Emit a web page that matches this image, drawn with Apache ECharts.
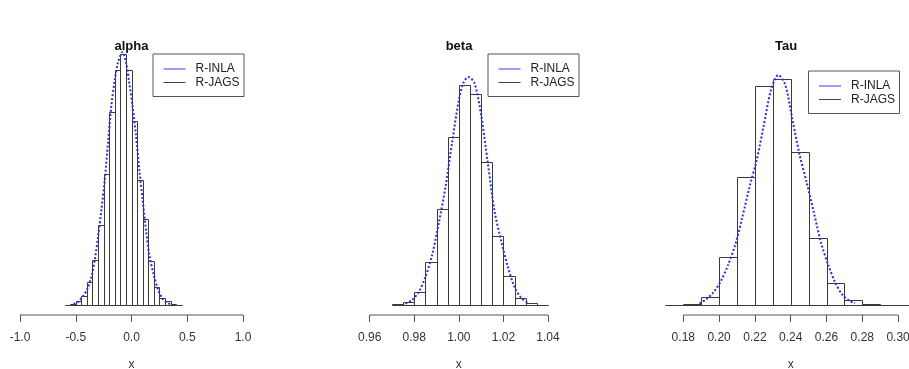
<!DOCTYPE html>
<html>
<head>
<meta charset="utf-8">
<script src="https://cdn.jsdelivr.net/npm/echarts@6/dist/echarts.min.js"></script>
<style>
  html, body { margin: 0; padding: 0; background: #fff; }
  #chart { width: 909px; height: 369px; }
</style>
</head>
<body>
<div id="chart"></div>
<script>
// bin edges and bar heights (relative density) of the JAGS histograms
const alphaBreaks = [-0.6, -0.55, -0.5, -0.45, -0.4, -0.35, -0.3, -0.25, -0.2, -0.15, -0.1,
  -0.05, 0, 0.05, 0.1, 0.15, 0.2, 0.25, 0.3, 0.35, 0.4, 0.45];
const alphaHist = [0.3, 1, 4.3, 8.7, 23, 45, 80, 131, 193, 235, 251, 235, 184, 125, 86, 44, 18, 7, 3.7, 1.3, 0.3];

const betaBreaks = [0.97, 0.975, 0.98, 0.985, 0.99, 0.995, 1.0, 1.005, 1.01, 1.015, 1.02, 1.025, 1.03, 1.035, 1.04];
const betaHist = [0.7, 3.3, 12.7, 43, 95.7, 167.7, 220, 210.7, 142.7, 68.7, 29.3, 7.3, 1.7, 0.3];

const tauBreaks = [0.17, 0.18, 0.19, 0.2, 0.21, 0.22, 0.23, 0.24, 0.25, 0.26, 0.27, 0.28, 0.29, 0.3, 0.31];
const tauHist = [0, 1.3, 8.3, 47.7, 128.3, 219, 225.7, 152.7, 67, 21.7, 5, 0.7, 0, 0];

// INLA posterior densities (same relative scale)
const alphaCurveX = [-0.52, -0.48, -0.44, -0.4, -0.36, -0.33, -0.3, -0.27, -0.24, -0.21, -0.18, -0.15, -0.12,
  -0.08, -0.05, -0.02, 0.01, 0.04, 0.07, 0.1, 0.13, 0.16, 0.2, 0.24, 0.28, 0.32, 0.36];
const alphaCurveY = [1, 3, 8, 15, 28, 45, 68, 95, 125, 163, 200, 225, 243,
  253, 243, 222, 198, 170, 135, 105, 75, 50, 30, 15, 6, 2, 0.5];

const betaCurveX = [0.976, 0.979, 0.982, 0.985, 0.988, 0.991, 0.994, 0.997, 1.0, 1.002, 1.0042,
  1.007, 1.01, 1.013, 1.016, 1.019, 1.022, 1.025, 1.028, 1.031];
const betaCurveY = [1.5, 5, 13, 28, 50, 82, 118, 163, 205, 222, 228,
  222, 190, 142, 94, 64, 38, 18, 7, 2];

const tauCurveX = [0.189, 0.193, 0.197, 0.201, 0.205, 0.209, 0.213, 0.217, 0.221, 0.225, 0.229, 0.2331,
  0.237, 0.241, 0.245, 0.249, 0.253, 0.257, 0.261, 0.265, 0.269, 0.273, 0.276];
const tauCurveY = [1.5, 6, 13, 24, 40, 60, 88, 118, 145, 180, 215, 230,
  220, 185, 150, 122, 92, 62, 40, 22, 10, 4, 2];

// tick labels
const alphaTicks = [-1, -0.5, 0, 0.5, 1];
const betaTicks = [0.96, 0.98, 1.0, 1.02, 1.04];
const tauTicks = [0.18, 0.2, 0.22, 0.24, 0.26, 0.28, 0.3];

const FONT = '"Liberation Sans", Arial, Helvetica, sans-serif';
const Y_MIN = -10, Y_MAX = 260;

const panels = [
  { title: 'alpha', breaks: alphaBreaks, hist: alphaHist, cx: alphaCurveX, cy: alphaCurveY, ticks: alphaTicks,
    digits: 1, min: -1, max: 1, left: 20, width: 223, titleX: 131.5, legendPos: [153, 54] },
  { title: 'beta', breaks: betaBreaks, hist: betaHist, cx: betaCurveX, cy: betaCurveY, ticks: betaTicks,
    digits: 2, min: 0.96, max: 1.04, left: 369.7, width: 178.3, titleX: 459, legendPos: [488, 54] },
  { title: 'Tau', breaks: tauBreaks, hist: tauHist, cx: tauCurveX, cy: tauCurveY, ticks: tauTicks,
    digits: 2, min: 0.17, max: 0.31, left: 665.4, width: 250.6, titleX: 786, legendPos: [808.5, 71] }
];

const crisp = v => Math.round(v) + 0.5;

const renderBin = (params, api) => {
  const a = api.coord([api.value(0), 0]);
  const b = api.coord([api.value(1), api.value(2)]);
  const x0 = crisp(a[0]), x1 = crisp(b[0]), y0 = crisp(a[1]), y1 = crisp(b[1]);
  return {
    type: 'rect',
    shape: { x: x0, y: y1, width: x1 - x0, height: y0 - y1 },
    style: { fill: 'none', stroke: '#3a3a3a', lineWidth: 1 }
  };
};

const chart = echarts.init(document.getElementById('chart'), null, { renderer: 'canvas' });

const option = {
  backgroundColor: '#fff',
  animation: false,
  title: panels.map(p => ({
    text: p.title,
    left: p.titleX,
    top: 40,
    padding: 0,
    textAlign: 'center',
    textStyle: { fontFamily: FONT, fontSize: 13, fontWeight: 'bold', color: '#111' }
  })),
  legend: panels.map(p => ({
    left: p.legendPos[0],
    top: p.legendPos[1],
    orient: 'vertical',
    icon: 'rect',
    itemWidth: 22,
    itemHeight: 1,
    itemGap: 0.5,
    padding: [8.5, 4.5, 7.5, 10.5],
    borderColor: '#555',
    borderWidth: 1,
    selectedMode: false,
    textStyle: { fontFamily: FONT, fontSize: 12, color: '#222', lineHeight: 13, padding: [0, 0, 0, 5] },
    data: [
      { name: 'R-INLA', itemStyle: { color: '#3a3af0', borderWidth: 0 } },
      { name: 'R-JAGS', itemStyle: { color: '#444', borderWidth: 0 } }
    ]
  })),
  grid: panels.map(p => ({
    left: p.left, width: p.width, top: 45, height: 270,
    containLabel: false, outerBoundsMode: 'none'
  })),
  xAxis: panels.map((p, i) => ({
    type: 'value',
    gridIndex: i,
    min: p.min,
    max: p.max,
    axisLine: { show: false, onZero: false },
    splitLine: { show: false },
    axisTick: { show: true, length: 7, lineStyle: { color: '#555' }, customValues: p.ticks },
    axisLabel: {
      customValues: p.ticks,
      formatter: v => v.toFixed(p.digits),
      margin: 17,
      fontFamily: FONT,
      fontSize: 12,
      color: '#333'
    },
    name: 'x',
    nameLocation: 'middle',
    nameGap: 44,
    nameTextStyle: { fontFamily: FONT, fontSize: 12, color: '#333' }
  })),
  yAxis: panels.map((p, i) => ({ type: 'value', gridIndex: i, min: Y_MIN, max: Y_MAX, show: false })),
  series: panels.flatMap((p, i) => [
    {
      name: 'R-JAGS',
      type: 'custom',
      xAxisIndex: i,
      yAxisIndex: i,
      renderItem: renderBin,
      encode: { x: [0, 1], y: 2 },
      data: p.hist.map((h, k) => [p.breaks[k], p.breaks[k + 1], h]),
      z: 2
    },
    {
      name: 'R-INLA',
      type: 'line',
      xAxisIndex: i,
      yAxisIndex: i,
      smooth: 0.3,
      symbol: 'none',
      lineStyle: { color: '#2530ea', width: 2, type: [2, 2] },
      itemStyle: { color: '#3a3af0' },
      data: p.cx.map((x, k) => [x, p.cy[k]]),
      z: 3
    },
    {
      name: 'axis',
      type: 'line',
      xAxisIndex: i,
      yAxisIndex: i,
      symbol: 'none',
      silent: true,
      clip: false,
      lineStyle: { color: '#555', width: 1 },
      data: [[p.ticks[0], Y_MIN], [p.ticks[p.ticks.length - 1], Y_MIN]],
      z: 1
    }
  ])
};

chart.setOption(option);
window.addEventListener('resize', () => chart.resize());
</script>
</body>
</html>
